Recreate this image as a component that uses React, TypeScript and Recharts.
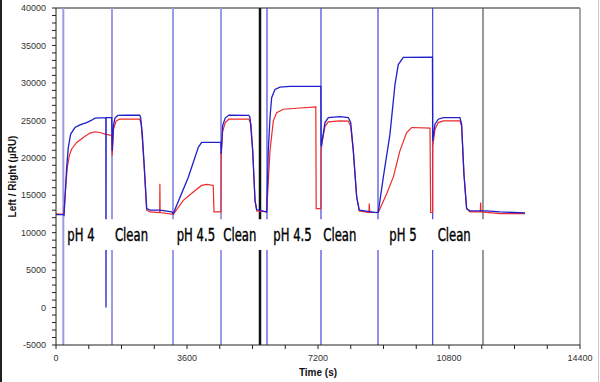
import React from 'react';
import { LineChart, Line, XAxis, YAxis, ReferenceLine, ReferenceArea, Scatter } from 'recharts';

// Blue (Left) sensorgram: time (s), response (µRU)
const blueTrace = [
  { t: 0, v: 12400 }, { t: 200, v: 12400 }, { t: 220, v: 12330 }, { t: 293, v: 18740 },
  { t: 339, v: 21390 }, { t: 403, v: 23160 }, { t: 522, v: 24040 }, { t: 660, v: 24400 },
  { t: 843, v: 24700 }, { t: 980, v: 25020 }, { t: 1072, v: 25290 }, { t: 1370, v: 25370 },
  { t: 1374, v: 0 }, { t: 1378, v: 25370 }, { t: 1530, v: 25370 }, { t: 1545, v: 20900 },
  { t: 1575, v: 24200 }, { t: 1620, v: 25300 }, { t: 1700, v: 25650 }, { t: 1900, v: 25700 },
  { t: 2300, v: 25680 }, { t: 2327, v: 25370 }, { t: 2372, v: 23160 }, { t: 2427, v: 18740 },
  { t: 2492, v: 13220 }, { t: 2583, v: 13000 }, { t: 2858, v: 13000 }, { t: 3179, v: 12770 },
  { t: 3223, v: 12550 }, { t: 3636, v: 17410 }, { t: 3911, v: 21400 }, { t: 4003, v: 22050 },
  { t: 4530, v: 22100 }, { t: 4540, v: 20500 }, { t: 4580, v: 24300 }, { t: 4650, v: 25300 },
  { t: 4750, v: 25700 }, { t: 5300, v: 25650 }, { t: 5331, v: 25400 }, { t: 5405, v: 20950 },
  { t: 5469, v: 14320 }, { t: 5515, v: 13090 }, { t: 5790, v: 12770 }, { t: 5834, v: 20950 },
  { t: 5881, v: 25370 }, { t: 5926, v: 28020 }, { t: 6017, v: 29130 }, { t: 6155, v: 29440 },
  { t: 6430, v: 29530 }, { t: 7280, v: 29530 }, { t: 7285, v: 21500 }, { t: 7329, v: 22720 },
  { t: 7392, v: 24700 }, { t: 7483, v: 25370 }, { t: 7804, v: 25500 }, { t: 8033, v: 25370 },
  { t: 8099, v: 24700 }, { t: 8170, v: 20950 }, { t: 8263, v: 14760 }, { t: 8335, v: 13000 },
  { t: 8813, v: 12690 }, { t: 8858, v: 12770 }, { t: 8995, v: 17410 }, { t: 9178, v: 23160 },
  { t: 9316, v: 29800 }, { t: 9406, v: 32450 }, { t: 9545, v: 33420 }, { t: 10345, v: 33450 },
  { t: 10352, v: 22280 }, { t: 10415, v: 24490 }, { t: 10506, v: 25150 }, { t: 10643, v: 25370 },
  { t: 11101, v: 25370 }, { t: 11147, v: 24490 }, { t: 11210, v: 17860 }, { t: 11284, v: 13220 },
  { t: 11376, v: 12900 }, { t: 11834, v: 12900 }, { t: 12201, v: 12770 }, { t: 12890, v: 12640 },
];

// Red (Right) sensorgram
const redTrace = [
  { t: 0, v: 12500 }, { t: 215, v: 12450 }, { t: 275, v: 16530 }, { t: 311, v: 18740 },
  { t: 366, v: 20290 }, { t: 431, v: 21180 }, { t: 569, v: 22050 }, { t: 751, v: 22720 },
  { t: 934, v: 23300 }, { t: 1072, v: 23470 }, { t: 1209, v: 23380 }, { t: 1347, v: 23160 },
  { t: 1484, v: 23030 }, { t: 1535, v: 23030 }, { t: 1545, v: 20300 }, { t: 1580, v: 23800 },
  { t: 1650, v: 24900 }, { t: 1750, v: 25150 }, { t: 2300, v: 25150 }, { t: 2340, v: 24500 },
  { t: 2372, v: 22500 }, { t: 2427, v: 18500 }, { t: 2492, v: 13000 }, { t: 2583, v: 12770 },
  { t: 2850, v: 12690 }, { t: 2855, v: 16530 }, { t: 2862, v: 12690 }, { t: 3223, v: 12450 },
  { t: 3498, v: 14320 }, { t: 3773, v: 15420 }, { t: 4003, v: 16310 }, { t: 4140, v: 16440 },
  { t: 4322, v: 16310 }, { t: 4342, v: 12770 }, { t: 4534, v: 12770 }, { t: 4540, v: 20510 },
  { t: 4580, v: 23500 }, { t: 4650, v: 24700 }, { t: 4750, v: 25150 }, { t: 5300, v: 25150 },
  { t: 5360, v: 24500 }, { t: 5405, v: 20950 }, { t: 5469, v: 14320 }, { t: 5515, v: 12900 },
  { t: 5790, v: 12770 }, { t: 5881, v: 20950 }, { t: 5972, v: 24930 }, { t: 6065, v: 26030 },
  { t: 6246, v: 26480 }, { t: 6615, v: 26610 }, { t: 7140, v: 26790 }, { t: 7150, v: 13220 },
  { t: 7280, v: 13220 }, { t: 7285, v: 21000 }, { t: 7329, v: 22500 }, { t: 7392, v: 24200 },
  { t: 7483, v: 24800 }, { t: 7804, v: 24930 }, { t: 8033, v: 24900 }, { t: 8099, v: 24200 },
  { t: 8170, v: 20950 }, { t: 8263, v: 14760 }, { t: 8335, v: 12900 }, { t: 8600, v: 12690 },
  { t: 8610, v: 13880 }, { t: 8620, v: 12690 }, { t: 8858, v: 12690 }, { t: 9087, v: 15210 },
  { t: 9269, v: 17410 }, { t: 9453, v: 20950 }, { t: 9636, v: 23380 }, { t: 9774, v: 24040 },
  { t: 10278, v: 23960 }, { t: 10296, v: 12690 }, { t: 10350, v: 12690 }, { t: 10352, v: 21500 },
  { t: 10415, v: 23800 }, { t: 10506, v: 24700 }, { t: 10643, v: 24930 }, { t: 11101, v: 24930 },
  { t: 11147, v: 24200 }, { t: 11210, v: 17860 }, { t: 11284, v: 13220 }, { t: 11376, v: 12770 },
  { t: 11660, v: 12770 }, { t: 11670, v: 14010 }, { t: 11680, v: 12770 }, { t: 12200, v: 12550 },
  { t: 12890, v: 12550 },
];

// Event markers (s)
const injectionMarks = [201, 1539, 3215, 4534];
const cycleMarks = [5798, 7282, 8849, 10351];
const blackMark = 5606;
const grayMark = 11734;

// Phase labels
const phaseLabels = [
  { t: 311, v: 8900, label: 'pH 4' },
  { t: 1621, v: 8900, label: 'Clean' },
  { t: 3317, v: 8900, label: 'pH 4.5' },
  { t: 4597, v: 8900, label: 'Clean' },
  { t: 5971, v: 8900, label: 'pH 4.5' },
  { t: 7345, v: 8900, label: 'Clean' },
  { t: 9159, v: 8900, label: 'pH 5' },
  { t: 10489, v: 8900, label: 'Clean' },
];

const xTicks = [0, 900, 1800, 2700, 3600, 4500, 5400, 6300, 7200, 8100, 9000, 9900, 10800, 11700, 12600, 13500, 14400];
const xLabelEvery = 3600;
const yTicks: number[] = [];
for (let v = -5000; v <= 40000; v += 1000) yTicks.push(v);
const yLabelEvery = 5000;

const FONT = "'Liberation Sans', Arial, sans-serif";
const LABEL_FONT = "'Liberation Sans Narrow', 'DejaVu Sans Condensed', sans-serif";

const PhaseText = (props: any) => {
  const { cx, cy, payload } = props;
  if (cx == null || cy == null) return null;
  return (
    <text
      transform={`translate(${cx},${cy}) scale(0.72,1)`}
      x={0}
      y={0}
      fontFamily={LABEL_FONT}
      fontSize={18}
      fill="#000"
      stroke="#000"
      strokeWidth={0.4}
      textAnchor="start"
    >
      {payload.label}
    </text>
  );
};

export default function App() {
  return (
    <div style={{ position: 'absolute', left: 0, top: 0, width: 600, height: 382, background: '#fff' }}>
      <LineChart width={600} height={382} margin={{ top: 8, right: 20, bottom: 0, left: 0 }}>
        <XAxis
          dataKey="t"
          type="number"
          domain={[0, 14400]}
          ticks={xTicks}
          interval={0}
          tickFormatter={(v: number) => (v % xLabelEvery === 0 ? String(v) : '')}
          tickSize={4}
          tickMargin={6}
          height={37}
          stroke="#222"
          tick={{ fontSize: 9, fontFamily: FONT, fill: '#333' }}
          allowDataOverflow
          label={{
            content: (p: any) => {
              const vb = p.viewBox || {};
              return (
                <text x={vb.x + vb.width / 2} y={376} textAnchor="middle" fontFamily={FONT} fontSize={10} fontWeight="bold" fill="#111">
                  Time (s)
                </text>
              );
            },
          }}
        />
        <YAxis
          dataKey="v"
          type="number"
          domain={[-5000, 40000]}
          ticks={yTicks}
          interval={0}
          tickFormatter={(v: number) => (v % yLabelEvery === 0 ? String(v) : '')}
          tickSize={4}
          tickMargin={6}
          width={56}
          stroke="#222"
          tick={{ fontSize: 9, fontFamily: FONT, fill: '#333' }}
          allowDataOverflow
          label={{
            content: (p: any) => {
              const vb = p.viewBox || {};
              const cy = vb.y + vb.height / 2;
              return (
                <text x={12} y={cy} transform={`rotate(-90, 12, ${cy})`} textAnchor="middle" dominantBaseline="central" fontFamily={FONT} fontSize={10} fontWeight="bold" fill="#111">
                  Left / Right (µRU)
                </text>
              );
            },
          }}
        />
        <ReferenceLine y={40000} stroke="#222" strokeWidth={1.2} />
        <ReferenceLine x={14400} stroke="#888" strokeWidth={1.5} />
        {injectionMarks.map((t) => (
          <ReferenceLine key={'i' + t} x={t} stroke="#9b9be6" strokeWidth={2} />
        ))}
        {cycleMarks.map((t) => (
          <ReferenceLine key={'c' + t} x={t} stroke="#4646dc" strokeWidth={1.2} />
        ))}
        <ReferenceLine x={blackMark} stroke="#111" strokeWidth={2.5} />
        <ReferenceLine x={grayMark} stroke="#555" strokeWidth={1.2} />
        <Line data={redTrace} dataKey="v" stroke="#ee2a2a" strokeWidth={1.2} dot={false} isAnimationActive={false} />
        <Line data={blueTrace} dataKey="v" stroke="#2020cc" strokeWidth={1.3} dot={false} isAnimationActive={false} />
        <ReferenceArea x1={255} x2={11900} y1={7700} y2={11800} fill="#fff" fillOpacity={1} stroke="none" {...({ zIndex: 1500 } as any)} />
        <Scatter data={phaseLabels} dataKey="v" shape={PhaseText} isAnimationActive={false} {...({ zIndex: 1600 } as any)} />
      </LineChart>
      <div style={{ position: 'absolute', left: 0, top: 0, width: 2, height: 382, background: '#222' }} />
      <div style={{ position: 'absolute', left: 598, top: 0, width: 1, height: 382, background: '#c8c8c8' }} />
    </div>
  );
}
